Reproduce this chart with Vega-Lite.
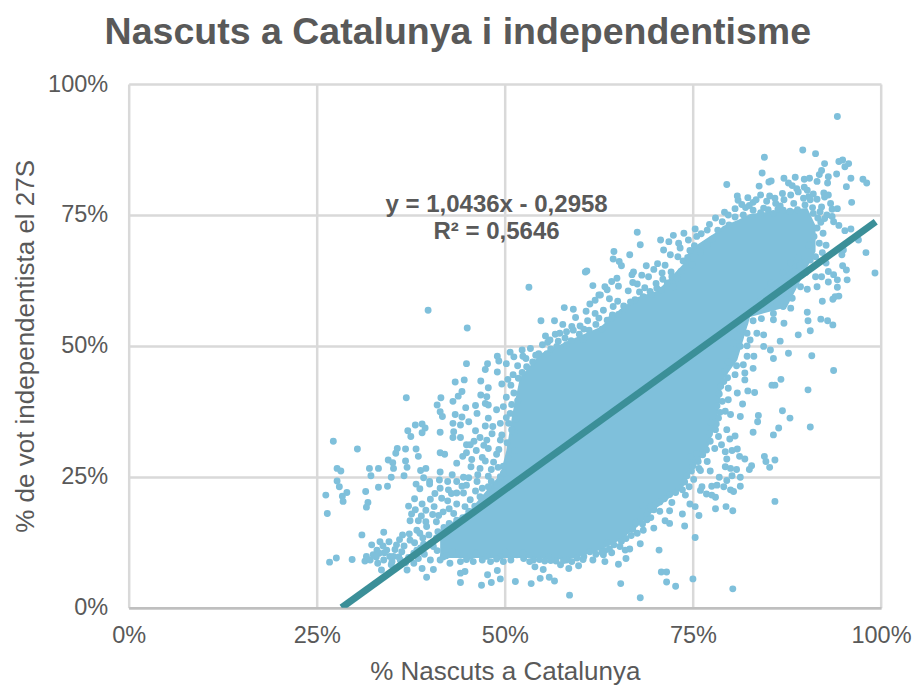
{"$schema":"https://vega.github.io/schema/vega-lite/v6.json","width":752.3,"height":523.7,"autosize":"none","padding":{"left":128.7,"top":84,"right":32,"bottom":77.3},"background":"white",
"title":{"text":"Nascuts a Catalunya i independentisme","font":"Liberation Sans","fontSize":37.5,"fontWeight":"bold","color":"#595959","anchor":"middle","frame":"group","dx":-47,"offset":21},
"config":{"view":{"stroke":null},"font":"Liberation Sans"},
"datasets":{
"core":[{"x":41.4,"lo":9.5,"hi":14.8},{"x":45.4,"lo":9.5,"hi":18.7},{"x":49.4,"lo":9.5,"hi":25.5},{"x":50.2,"lo":9.5,"hi":30},{"x":51,"lo":9.5,"hi":37},{"x":52.0,"lo":9.5,"hi":43.9},{"x":54.7,"lo":9.5,"hi":48.5},{"x":58.3,"lo":9.1,"hi":50.9},{"x":62.7,"lo":11,"hi":53.6},{"x":65.3,"lo":12.9,"hi":57},{"x":67.6,"lo":15.4,"hi":59.3},{"x":70.3,"lo":19.2,"hi":60.5},{"x":73.7,"lo":23,"hi":65.6},{"x":74.6,"lo":25.7,"hi":68.4},{"x":76.9,"lo":30.1,"hi":70.6},{"x":78.2,"lo":35.8,"hi":71.8},{"x":79.0,"lo":43.5,"hi":72.9},{"x":80.9,"lo":47.3,"hi":74},{"x":82.6,"lo":55.5,"hi":75.2},{"x":87.5,"lo":57.4,"hi":76},{"x":90.2,"lo":65,"hi":76.3},{"x":91.3,"lo":68,"hi":73}],
"trend":[{"x":28.3,"y":0},{"x":99.3,"y":73.7}],
"notes":[{"x":48.9,"y":76.9,"t":"y = 1,0436x - 0,2958"},{"x":48.9,"y":71.8,"t":"R² = 0,5646"}],
"points":[
{"x":44.9,"y":46.6},{"x":47.4,"y":45.5},{"x":47.7,"y":46.6},{"x":49.0,"y":45.0},{"x":49.2,"y":47.1},{"x":43.4,"y":43.1},{"x":44.6,"y":43.5},{"x":46.8,"y":43.3},{"x":47.8,"y":42.0},{"x":49.6,"y":42.7},{"x":44.3,"y":41.3},{"x":43.8,"y":40.4},{"x":43.1,"y":39.4},{"x":41.5,"y":40.1},{"x":36.9,"y":40.1},{"x":41.0,"y":38.7},{"x":41.4,"y":37.4},{"x":41.7,"y":36.5},{"x":43.4,"y":36.9},{"x":44.3,"y":36.4},{"x":44.8,"y":38.2},{"x":46.8,"y":40.6},{"x":47.6,"y":40.3},{"x":46.1,"y":38.6},{"x":46.3,"y":37.1},{"x":47.4,"y":39.0},{"x":47.8,"y":38.7},{"x":47.8,"y":36.2},{"x":48.9,"y":37.8},{"x":49.8,"y":38.4},{"x":50.7,"y":37.1},{"x":49.4,"y":35.2},{"x":50.5,"y":35.2},{"x":45.2,"y":35.5},{"x":44.1,"y":34.9},{"x":43.1,"y":35.2},{"x":43.2,"y":33.6},{"x":43.1,"y":32.5},{"x":44.1,"y":32.5},{"x":41.4,"y":33.5},{"x":38.1,"y":34.9},{"x":39.0,"y":35.1},{"x":39.4,"y":34.3},{"x":39.0,"y":33.4},{"x":37.1,"y":33.8},{"x":37.5,"y":32.7},{"x":46.1,"y":33.8},{"x":46.7,"y":32.5},{"x":47.4,"y":34.7},{"x":48.4,"y":34.6},{"x":48.3,"y":33.2},{"x":47.6,"y":32.0},{"x":49.4,"y":32.0},{"x":51.2,"y":33.6},{"x":44.9,"y":31.1},{"x":45.4,"y":31.1},{"x":44.9,"y":29.6},{"x":44.4,"y":28.9},{"x":43.6,"y":27.6},{"x":41.4,"y":29.6},{"x":42.0,"y":29.3},{"x":38.2,"y":30.3},{"x":38.5,"y":28.9},{"x":36.8,"y":30.3},{"x":35.7,"y":30.4},{"x":35.5,"y":29.5},{"x":34.5,"y":28.2},{"x":35.1,"y":27.7},{"x":36.8,"y":28.0},{"x":37.0,"y":26.8},{"x":35.2,"y":26.6},{"x":47.0,"y":28.7},{"x":47.4,"y":28.0},{"x":45.5,"y":26.9},{"x":46.7,"y":26.6},{"x":48.2,"y":26.4},{"x":47.8,"y":30.4},{"x":48.9,"y":29.3},{"x":27.2,"y":31.8},{"x":30.4,"y":30.3},{"x":27.7,"y":26.6},{"x":28.2,"y":26.1},{"x":32.0,"y":26.6},{"x":33.2,"y":26.6},{"x":32.2,"y":25.2},{"x":34.9,"y":24.9},{"x":36.6,"y":25.2},{"x":38.8,"y":26.2},{"x":39.5,"y":26.6},{"x":41.4,"y":25.9},{"x":41.3,"y":24.4},{"x":40.0,"y":24.1},{"x":43.0,"y":25.4},{"x":44.5,"y":24.9},{"x":43.6,"y":24.1},{"x":38.2,"y":23.6},{"x":38.7,"y":22.7},{"x":40.0,"y":23.6},{"x":27.7,"y":24.2},{"x":28.0,"y":23.1},{"x":33.2,"y":23.0},{"x":34.4,"y":23.2},{"x":31.5,"y":22.2},{"x":29.0,"y":22.0},{"x":28.4,"y":21.3},{"x":26.2,"y":21.5},{"x":28.5,"y":20.3},{"x":31.8,"y":20.1},{"x":31.6,"y":19.2},{"x":26.4,"y":18.0},{"x":42.5,"y":22.5},{"x":41.4,"y":22.8},{"x":44.3,"y":23.2},{"x":44.5,"y":21.9},{"x":43.6,"y":21.9},{"x":46.3,"y":24.1},{"x":47.0,"y":22.8},{"x":47.8,"y":23.1},{"x":48.9,"y":23.4},{"x":49.4,"y":25.0},{"x":38.0,"y":20.8},{"x":37.2,"y":19.4},{"x":39.0,"y":19.8},{"x":40.1,"y":20.7},{"x":40.6,"y":19.3},{"x":41.6,"y":20.9},{"x":41.8,"y":18.3},{"x":43.6,"y":19.8},{"x":45.4,"y":20.6},{"x":46.7,"y":21.2},{"x":38.1,"y":18.7},{"x":37.6,"y":17.9},{"x":43.2,"y":18.0},{"x":44.7,"y":19.3},{"x":37.4,"y":16.6},{"x":38.5,"y":16.6},{"x":39.5,"y":16.4},{"x":40.9,"y":16.4},{"x":38.3,"y":14.8},{"x":36.4,"y":13.9},{"x":33.9,"y":14.4},{"x":31.0,"y":13.9},{"x":33.4,"y":12.6},{"x":32.3,"y":12.0},{"x":34.3,"y":11.0},{"x":32.5,"y":10.1},{"x":31.4,"y":8.9},{"x":29.7,"y":9.2},{"x":27.6,"y":9.5},{"x":26.7,"y":8.7},{"x":33.9,"y":9.1},{"x":35.6,"y":12.0},{"x":37.4,"y":12.9},{"x":38.7,"y":14.2},{"x":39.6,"y":15.5},{"x":33.6,"y":7.2},{"x":35.2,"y":9.8},{"x":37.0,"y":7.2},{"x":39.0,"y":7.5},{"x":39.6,"y":5.8},{"x":40.5,"y":7.3},{"x":41.4,"y":9.1},{"x":42.7,"y":8.5},{"x":44.1,"y":6.6},{"x":44.7,"y":6.9},{"x":45.8,"y":8.8},{"x":48.1,"y":8.8},{"x":49.8,"y":8.8},{"x":52.5,"y":9.4},{"x":54.0,"y":7.8},{"x":55.1,"y":7.3},{"x":57.4,"y":8.2},{"x":58.5,"y":7.5},{"x":59.8,"y":8.0},{"x":61.7,"y":9.1},{"x":44.1,"y":4.8},{"x":46.9,"y":4.3},{"x":48.2,"y":4.8},{"x":47.7,"y":6.3},{"x":49.0,"y":7.1},{"x":49.4,"y":5.5},{"x":51.4,"y":5.0},{"x":53.5,"y":4.6},{"x":54.7,"y":5.6},{"x":55.9,"y":5.8},{"x":56.6,"y":5.1},{"x":58.6,"y":2.4},{"x":41.8,"y":9.7},{"x":43.6,"y":10.4},{"x":45.4,"y":9.8},{"x":47.6,"y":9.8},{"x":49.4,"y":9.8},{"x":51.6,"y":10.1},{"x":53.8,"y":9.1},{"x":55.8,"y":9.8},{"x":58.2,"y":9.1},{"x":60.5,"y":9.8},{"x":31.6,"y":9.8},{"x":33.0,"y":11.0},{"x":34.7,"y":9.8},{"x":36.1,"y":9.1},{"x":37.9,"y":8.5},{"x":40.1,"y":9.1},{"x":38.3,"y":11.0},{"x":40.5,"y":11.7},{"x":37.9,"y":10.4},{"x":36.3,"y":10.7},
{"x":60.9,"y":64.3},{"x":60.7,"y":64.1},{"x":61.7,"y":61.5},{"x":62.5,"y":59.7},{"x":53.2,"y":61.2},{"x":39.8,"y":56.8},{"x":45.0,"y":53.4},{"x":57.9,"y":57.3},{"x":59.1,"y":57.0},{"x":61.3,"y":58.0},{"x":60.8,"y":56.6},{"x":62.0,"y":56.2},{"x":59.4,"y":55.4},{"x":54.8,"y":54.8},{"x":56.6,"y":54.8},{"x":57.7,"y":54.1},{"x":58.9,"y":53.7},{"x":59.1,"y":53.0},{"x":55.4,"y":51.9},{"x":56.0,"y":51.1},{"x":56.7,"y":52.2},{"x":57.3,"y":52.4},{"x":52.3,"y":49.2},{"x":52.4,"y":48.0},{"x":49.0,"y":48.0},{"x":54.5,"y":48.5},{"x":55.6,"y":48.5},{"x":60.5,"y":53.2},{"x":62.5,"y":55.3},{"x":58.2,"y":50.2},{"x":56.9,"y":49.9},
{"x":94.2,"y":93.8},{"x":89.6,"y":87.4},{"x":91.3,"y":86.7},{"x":84.5,"y":86.0},{"x":92.5,"y":84.8},{"x":94.4,"y":85.2},{"x":94.9,"y":85.5},{"x":95.7,"y":84.8},{"x":95.2,"y":84.2},{"x":84.2,"y":83.0},{"x":92.1,"y":83.5},{"x":91.8,"y":82.7},{"x":93.0,"y":82.3},{"x":94.1,"y":82.8},{"x":87.1,"y":82.0},{"x":88.6,"y":82.2},{"x":89.8,"y":81.8},{"x":90.5,"y":82.0},{"x":85.4,"y":81.5},{"x":85.1,"y":81.3},{"x":91.5,"y":81.4},{"x":92.9,"y":81.1},{"x":96.0,"y":82.0},{"x":97.6,"y":81.8},{"x":98.1,"y":81.1},{"x":95.4,"y":80.4},{"x":83.8,"y":80.5},{"x":79.5,"y":80.8},{"x":87.7,"y":81.1},{"x":88.2,"y":80.6},{"x":88.8,"y":80.0},{"x":89.8,"y":80.3},{"x":80.9,"y":78.6},{"x":82.3,"y":78.3},{"x":85.2,"y":78.6},{"x":85.9,"y":78.2},{"x":84.8,"y":77.6},{"x":90.4,"y":78.5},{"x":91.0,"y":79.0},{"x":92.4,"y":79.2},{"x":93.0,"y":78.8},{"x":92.5,"y":78.4},{"x":89.7,"y":78.2},{"x":96.1,"y":77.4},{"x":83.0,"y":77.4},{"x":81.5,"y":77.0},{"x":80.6,"y":76.2},{"x":84.4,"y":76.3},{"x":86.6,"y":76.7},{"x":88.4,"y":77.2},{"x":90.6,"y":77.9},{"x":92.1,"y":76.5},{"x":93.5,"y":76.1},{"x":94.2,"y":76.2},{"x":91.0,"y":75.3},{"x":93.5,"y":74.7},{"x":93.7,"y":73.7},{"x":94.4,"y":73.0},{"x":95.2,"y":72.0},{"x":96.0,"y":72.3},{"x":97.0,"y":70.2},{"x":98.0,"y":67.8},{"x":99.2,"y":63.9},{"x":79.2,"y":75.5},{"x":78.0,"y":74.4},{"x":79.7,"y":75.0},{"x":80.6,"y":74.6},{"x":81.7,"y":75.0},{"x":85.7,"y":75.3},{"x":87.9,"y":75.7},{"x":67.6,"y":71.7},{"x":68.0,"y":69.3},{"x":70.7,"y":70.2},{"x":71.8,"y":69.9},{"x":72.4,"y":71.1},{"x":73.8,"y":71.5},{"x":74.4,"y":70.2},{"x":73.1,"y":69.6},{"x":73.3,"y":68.7},{"x":71.1,"y":68.3},{"x":72.0,"y":67.4},{"x":75.5,"y":70.9},{"x":76.9,"y":72.1},{"x":64.5,"y":68.0},{"x":66.6,"y":67.4},{"x":64.4,"y":66.6},{"x":65.2,"y":66.1},{"x":65.5,"y":65.3},{"x":68.8,"y":65.3},{"x":69.8,"y":64.6},{"x":67.1,"y":64.1},{"x":66.9,"y":63.6},{"x":68.2,"y":63.5},{"x":69.1,"y":63.2},{"x":70.9,"y":63.9},{"x":72.1,"y":64.1},{"x":72.2,"y":63.2},{"x":71.0,"y":62.7},{"x":64.9,"y":62.9},{"x":64.2,"y":62.3},{"x":65.1,"y":61.4},{"x":67.0,"y":62.1},{"x":67.6,"y":61.8},{"x":70.2,"y":61.0},{"x":69.3,"y":60.4},{"x":66.4,"y":60.5},{"x":63.3,"y":61.3},{"x":63.6,"y":60.7},{"x":62.7,"y":59.7},{"x":63.9,"y":59.0},{"x":65.0,"y":58.5},{"x":67.3,"y":58.8},{"x":68.4,"y":59.4},{"x":66.0,"y":57.0},{"x":64.3,"y":55.9},{"x":92.7,"y":69.2},{"x":94.8,"y":67.4},{"x":95.0,"y":68.3},{"x":92.7,"y":65.8},{"x":94.9,"y":65.3},{"x":95.4,"y":64.5},{"x":93.0,"y":64.2},{"x":93.7,"y":63.6},{"x":95.5,"y":62.6},{"x":91.3,"y":63.2},{"x":92.1,"y":63.2},{"x":93.0,"y":62.2},{"x":94.2,"y":62.6},{"x":94.2,"y":61.2},{"x":91.5,"y":61.3},{"x":89.3,"y":61.3},{"x":90.2,"y":60.8},{"x":93.9,"y":59.4},{"x":93.6,"y":58.9},{"x":94.4,"y":59.5},{"x":92.2,"y":58.5},{"x":88.2,"y":59.1},{"x":88.0,"y":57.2},{"x":90.2,"y":56.4},{"x":90.3,"y":54.8},{"x":92.0,"y":55.1},{"x":92.9,"y":54.8},{"x":93.6,"y":54.0},{"x":90.6,"y":52.9},{"x":89.0,"y":52.1},{"x":87.1,"y":54.3},{"x":86.6,"y":50.9},{"x":84.4,"y":52.1},{"x":83.5,"y":52.4},{"x":82.6,"y":51.1},{"x":85.7,"y":55.0},{"x":84.4,"y":49.9},{"x":85.3,"y":49.2},{"x":87.7,"y":48.6},{"x":90.8,"y":48.1},{"x":85.7,"y":47.6},{"x":82.2,"y":48.0},{"x":83.1,"y":48.0},{"x":87.0,"y":57.5},{"x":85.7,"y":56.2},{"x":83.9,"y":56.9},{"x":82.2,"y":52.4},{"x":81.3,"y":49.9},{"x":88.8,"y":62.6},{"x":90.6,"y":66.4},
{"x":93.7,"y":45.3},{"x":90.3,"y":41.6},{"x":86.7,"y":43.6},{"x":85.9,"y":42.5},{"x":85.5,"y":42.5},{"x":82.3,"y":41.4},{"x":83.2,"y":41.1},{"x":80.9,"y":41.0},{"x":81.9,"y":43.5},{"x":81.9,"y":44.8},{"x":80.6,"y":44.5},{"x":83.0,"y":45.7},{"x":81.7,"y":46.4},{"x":80.8,"y":46.2},{"x":81.6,"y":38.9},{"x":79.7,"y":39.7},{"x":79.7,"y":41.9},{"x":79.1,"y":43.2},{"x":86.9,"y":37.6},{"x":87.9,"y":36.2},{"x":83.7,"y":36.7},{"x":83.6,"y":35.5},{"x":81.3,"y":36.5},{"x":79.3,"y":37.5},{"x":80.0,"y":36.9},{"x":78.4,"y":36.2},{"x":90.6,"y":34.5},{"x":86.4,"y":34.3},{"x":85.7,"y":33.0},{"x":83.0,"y":33.5},{"x":79.5,"y":34.0},{"x":80.6,"y":32.8},{"x":79.9,"y":32.2},{"x":78.8,"y":31.1},{"x":78.0,"y":34.0},{"x":78.4,"y":32.7},{"x":80.9,"y":30.3},{"x":80.2,"y":30.0},{"x":79.3,"y":29.8},{"x":79.5,"y":28.4},{"x":81.2,"y":28.9},{"x":81.9,"y":28.4},{"x":84.5,"y":28.9},{"x":84.7,"y":27.9},{"x":85.9,"y":28.2},{"x":85.2,"y":26.8},{"x":82.8,"y":27.1},{"x":82.5,"y":26.4},{"x":79.3,"y":26.9},{"x":80.8,"y":26.4},{"x":80.0,"y":26.6},{"x":77.3,"y":26.1},{"x":81.3,"y":24.9},{"x":80.2,"y":25.2},{"x":78.5,"y":24.9},{"x":79.5,"y":24.3},{"x":78.2,"y":23.4},{"x":77.5,"y":23.2},{"x":79.1,"y":23.1},{"x":81.3,"y":23.2},{"x":80.0,"y":22.5},{"x":80.4,"y":22.2},{"x":76.2,"y":23.1},{"x":76.0,"y":22.4},{"x":76.8,"y":21.7},{"x":77.5,"y":21.5},{"x":78.0,"y":21.1},{"x":76.0,"y":26.2},{"x":76.9,"y":27.9},{"x":74.6,"y":28.9},{"x":75.7,"y":27.9},{"x":85.9,"y":20.3},{"x":78.0,"y":18.9},{"x":79.4,"y":19.3},{"x":80.3,"y":18.5},{"x":74.6,"y":19.8},{"x":75.3,"y":19.3},{"x":75.8,"y":17.6},{"x":73.6,"y":17.9},{"x":73.9,"y":15.6},{"x":75.3,"y":13.4},{"x":71.9,"y":18.5},{"x":72.2,"y":20.1},{"x":74.0,"y":21.5},{"x":71.3,"y":16.6},{"x":71.9,"y":16.1},{"x":70.6,"y":18.4},{"x":68.9,"y":17.7},{"x":68.4,"y":19.4},{"x":69.8,"y":15.2},{"x":68.4,"y":14.8},{"x":67.6,"y":14.2},{"x":68.0,"y":12.2},{"x":70.5,"y":11.0},{"x":66.6,"y":11.2},{"x":66.0,"y":11.0},{"x":64.2,"y":10.5},{"x":63.6,"y":12.4},{"x":63.3,"y":10.9},{"x":63.1,"y":10.1},{"x":63.3,"y":8.8},{"x":65.1,"y":8.3},{"x":66.1,"y":9.4},{"x":70.8,"y":6.8},{"x":71.5,"y":6.8},{"x":71.5,"y":4.9},{"x":72.7,"y":4.1},{"x":75.0,"y":5.5},{"x":80.3,"y":3.6},{"x":65.4,"y":4.6},{"x":68.0,"y":1.9},{"x":69.8,"y":18.7},
{"x":49.8,"y":27},{"x":50.5,"y":28.5},{"x":49.2,"y":30.2},{"x":50.3,"y":31.5},{"x":49.6,"y":33},{"x":51.3,"y":30},{"x":50.9,"y":34},{"x":51.5,"y":36},{"x":50.2,"y":36.3},{"x":50.9,"y":38.8},{"x":51.7,"y":39.5},{"x":51.2,"y":41},{"x":50.2,"y":40.2},{"x":50.8,"y":42.5},{"x":51.8,"y":43.8},{"x":52.3,"y":44.9},{"x":51.1,"y":44.5},{"x":50.4,"y":43.6},{"x":52.9,"y":46},{"x":53.7,"y":46.9},{"x":52.8,"y":47.6},{"x":51.7,"y":46.2},{"x":53.4,"y":49.5},{"x":54.1,"y":48.2},{"x":51.2,"y":47.9},{"x":50.2,"y":46.6},{"x":50.7,"y":48.8},{"x":55.0,"y":50.2},{"x":56.1,"y":49.4},{"x":55.7,"y":50.7},{"x":57.1,"y":50.9},{"x":58.0,"y":51.5},{"x":58.8,"y":51.0},{"x":59.9,"y":52.2},{"x":60.4,"y":51.2},{"x":61.2,"y":53},{"x":62.1,"y":54.1},{"x":62.9,"y":53.2},{"x":63.6,"y":54.9},{"x":64.2,"y":55.3},{"x":65.1,"y":56},{"x":63.1,"y":56.8},{"x":64.4,"y":57.5},{"x":65.8,"y":57.6},{"x":66.7,"y":58.4},{"x":62,"y":58.7},{"x":61.0,"y":54.8},{"x":60,"y":53.8},{"x":58.2,"y":52.7},{"x":67.9,"y":60.3},{"x":68.6,"y":61.1},{"x":69.5,"y":59.8},{"x":70.1,"y":61.9},{"x":70.8,"y":60.6},{"x":71.6,"y":62},{"x":72.4,"y":61.3},{"x":72.9,"y":62.9},{"x":73.4,"y":64.2},{"x":70.3,"y":65.7},{"x":71.3,"y":65.4},{"x":73.7,"y":66.2},{"x":74.3,"y":66.9},{"x":74.9,"y":65.5},{"x":73.0,"y":67},{"x":75.2,"y":69.1},{"x":74.6,"y":68.2},{"x":76,"y":67.9},{"x":76.9,"y":69.3},{"x":77.6,"y":70.4},{"x":75.3,"y":72.3},{"x":78.3,"y":72.1},{"x":78.9,"y":73.7},{"x":79.8,"y":73.1},{"x":77.2,"y":73.2},{"x":76.1,"y":71.4},{"x":82,"y":76.4},{"x":83,"y":75.9},{"x":84,"y":75.4},{"x":85,"y":76},{"x":86.3,"y":76.1},{"x":87,"y":75.9},{"x":88.9,"y":76},{"x":89.9,"y":76.9},{"x":90.9,"y":76.4},{"x":91.6,"y":74.4},{"x":92,"y":73.6},{"x":91.5,"y":72.5},{"x":92.3,"y":71.5},{"x":91.1,"y":70.9},{"x":90.4,"y":69.2},{"x":91.8,"y":69.6},{"x":92.2,"y":67.8},{"x":91.3,"y":67},{"x":90,"y":66},{"x":91.9,"y":66.1},{"x":89.2,"y":65.4},{"x":88.6,"y":64.2},{"x":87.6,"y":63.5},{"x":87.2,"y":61.9},{"x":86.6,"y":60.6},{"x":88.2,"y":61},{"x":86,"y":59.4},{"x":85.3,"y":58.3},{"x":84.7,"y":57.8},{"x":84.1,"y":55.2},{"x":83,"y":54.8},{"x":82.8,"y":56.7},{"x":81.9,"y":54.4},{"x":81.3,"y":53},{"x":82.2,"y":50},{"x":81,"y":51.8},{"x":80.4,"y":50.6},{"x":80.5,"y":48.3},{"x":79.7,"y":46.9},{"x":79.2,"y":45.1},{"x":79.6,"y":43.9},{"x":78.7,"y":42.3},{"x":78.5,"y":40.8},{"x":78.9,"y":39.4},{"x":78.2,"y":38.5},{"x":78.6,"y":37.3},{"x":78.1,"y":35.1},{"x":77.4,"y":35.4},{"x":77.2,"y":33.2},{"x":77.3,"y":31.8},{"x":77.9,"y":30.4},{"x":76.8,"y":30.1},{"x":76.3,"y":29.2},{"x":75.5,"y":29.4},{"x":75.8,"y":26.6},{"x":75,"y":27.1},{"x":74.8,"y":26.1},{"x":74.2,"y":25.2},{"x":75.1,"y":24.5},{"x":73.9,"y":24},{"x":74.5,"y":23.1},{"x":73.1,"y":22.9},{"x":72.7,"y":22},{"x":73.6,"y":22.5},{"x":71.9,"y":21.6},{"x":71.2,"y":20.8},{"x":70.6,"y":20.2},{"x":70.1,"y":19.9},{"x":69.4,"y":19.4},{"x":69.4,"y":17.2},{"x":68.9,"y":16.8},{"x":68.3,"y":16},{"x":67.4,"y":16.3},{"x":67,"y":15},{"x":66.8,"y":13.8},{"x":66.1,"y":13.2},{"x":65.5,"y":12.7},{"x":65.3,"y":11.7},{"x":64.5,"y":12},{"x":63.9,"y":11.2},{"x":62.9,"y":10.6},{"x":62.1,"y":10.2},{"x":61.3,"y":10.7},{"x":60.4,"y":9.2},{"x":59.6,"y":9.5},{"x":58.9,"y":8.8},{"x":57.8,"y":9},{"x":56.8,"y":8.9},{"x":56.1,"y":9},{"x":55.3,"y":8.9},{"x":54.6,"y":9.2},{"x":53.3,"y":8.8},{"x":52.4,"y":10.4},{"x":50.8,"y":9.1},{"x":50.1,"y":10.6},{"x":48.9,"y":9.3},{"x":47,"y":9.1},{"x":46.2,"y":10.4},{"x":44.9,"y":9.2},{"x":44.1,"y":8.8},{"x":43,"y":10.7},{"x":42.2,"y":9.9},{"x":41,"y":10.9},{"x":40.2,"y":12.3},{"x":39.2,"y":12.1},{"x":38.8,"y":11.4},{"x":40.9,"y":13.3},{"x":41.1,"y":14.5},{"x":39.9,"y":13.9},{"x":41.9,"y":15.3},{"x":42.6,"y":16.1},{"x":43.6,"y":16.7},{"x":44.4,"y":17.2},{"x":45.2,"y":18.4},{"x":46,"y":19.4},{"x":46.9,"y":20},{"x":47.9,"y":21.4},{"x":48.6,"y":22.2},{"x":49.5,"y":23.6},{"x":50.3,"y":24.7},{"x":49.8,"y":25.7},{"x":46.5,"y":18.6},{"x":48,"y":20},{"x":33.1,"y":8.5},{"x":34,"y":10.5},{"x":34.9,"y":8.2},{"x":35.9,"y":9.7},{"x":36.8,"y":8.6},{"x":37.2,"y":9.6},{"x":38.5,"y":9.4},{"x":39.3,"y":10.2},{"x":35.4,"y":11.1},{"x":36.6,"y":11.8},{"x":38,"y":12.4},{"x":37.3,"y":14.1},{"x":39.1,"y":13.3},{"x":35,"y":8.8},{"x":33.3,"y":10.4},{"x":32.1,"y":9.1},{"x":32.9,"y":9.7},{"x":33.8,"y":11.8},{"x":34.6,"y":12.6},{"x":36,"y":13},{"x":46.2,"y":30},{"x":47.2,"y":31},{"x":45.9,"y":31.8},{"x":47.8,"y":25.1},{"x":46.4,"y":25.4},{"x":45.2,"y":24.8},{"x":44.9,"y":23.4},{"x":46.1,"y":22.3},{"x":48.2,"y":24.1},{"x":48.5,"y":27.8},{"x":49.1,"y":26.8},{"x":45.6,"y":28.3},{"x":42.4,"y":20.4},{"x":42.9,"y":21.8},{"x":40.7,"y":21.8},{"x":39.5,"y":18.6},{"x":40.4,"y":17.8},{"x":41.2,"y":17.6},{"x":42.6,"y":18.9},{"x":38.9,"y":17.5},{"x":42.4,"y":24.1},{"x":39.2,"y":24.8},{"x":81,"y":77.8},{"x":82.5,"y":76.8},{"x":83.4,"y":77.9},{"x":84,"y":78.8},{"x":86,"y":77.2},{"x":87.1,"y":77.9},{"x":88,"y":78.8},{"x":86.9,"y":79.1},{"x":89,"y":79.4},{"x":90.2,"y":79.7},{"x":91.5,"y":78},{"x":93.3,"y":77.2},{"x":92.8,"y":75},{"x":92.5,"y":74.3},{"x":91.9,"y":75.6},{"x":84,"y":59.2},{"x":85,"y":60.6},{"x":83.6,"y":58},{"x":86,"y":61.8},{"x":87,"y":64},{"x":88,"y":65.8},{"x":89,"y":66.9},{"x":85.4,"y":62},{"x":90,"y":64},{"x":88.6,"y":63},{"x":87.4,"y":60}
]},
"layer":[
{"data":{"name":"core"},"mark":{"type":"area","color":"#7fc0db","opacity":1},
"encoding":{"x":{"field":"x","type":"quantitative","scale":{"domain":[0,100],"nice":false},
"axis":{"values":[0,25,50,75,100],"labelExpr":"datum.value + '%'","labelFlush":false,"title":"% Nascuts a Catalunya","grid":true,"gridColor":"#d9d9d9","gridWidth":2.5,"ticks":false,"domainColor":"#bfbfbf","domainWidth":2.5,"labelFont":"Liberation Sans","labelFontSize":23.5,"labelColor":"#595959","labelPadding":16,"titleFont":"Liberation Sans","titleFontSize":26,"titleFontWeight":"normal","titleColor":"#595959","titlePadding":11}},
"y":{"field":"lo","type":"quantitative","scale":{"domain":[0,100],"nice":false},
"axis":{"values":[0,25,50,75,100],"labelExpr":"datum.value + '%'","labelFlush":false,"title":"% de vot independentista el 27S","grid":true,"gridColor":"#d9d9d9","gridWidth":2.5,"ticks":false,"domain":false,"labelFont":"Liberation Sans","labelFontSize":23.5,"labelColor":"#595959","labelPadding":21,"titleFont":"Liberation Sans","titleFontSize":26,"titleFontWeight":"normal","titleColor":"#595959","titlePadding":9}},
"y2":{"field":"hi"}}},
{"data":{"name":"points"},"mark":{"type":"circle","size":48,"color":"#7fc0db","opacity":1},
"encoding":{"x":{"field":"x","type":"quantitative"},"y":{"field":"y","type":"quantitative"}}},
{"data":{"name":"trend"},"mark":{"type":"line","color":"#3b8f98","strokeWidth":7,"clip":true},
"encoding":{"x":{"field":"x","type":"quantitative"},"y":{"field":"y","type":"quantitative"}}},
{"data":{"name":"notes"},"mark":{"type":"text","font":"Liberation Sans","fontSize":24,"fontWeight":"bold","color":"#595959","align":"center","baseline":"middle"},
"encoding":{"x":{"field":"x","type":"quantitative"},"y":{"field":"y","type":"quantitative"},"text":{"field":"t"}}}
]}
